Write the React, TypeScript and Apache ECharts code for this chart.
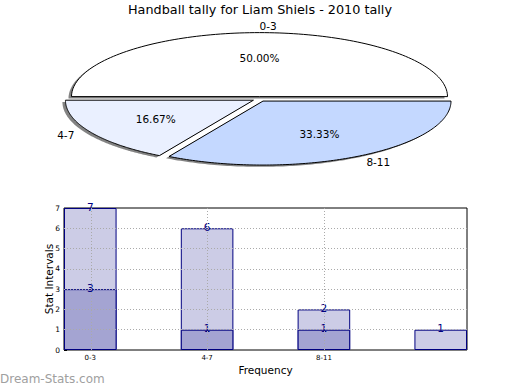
import React, { useEffect, useRef } from "react";
import * as echarts from "echarts";

const TITLE = "Handball tally for Liam Shiels - 2010 tally";

// Pie data
const pieLabels = ["0-3", "4-7", "8-11"];
const pieValues = [3, 1, 2];
const pieColors = ["#ffffff", "#eaf0ff", "#c4d8ff"];

// Bar data
const barCategories = ["0-3", "4-7", "8-11", ""];
const totalValues = [7, 6, 2, 1];
const lowValues: (number | null)[] = [3, 1, 1, null];
const yGridValues = [1, 2, 3, 4, 5, 6];

const FONT = "DejaVu Sans";
const BAR_FRAC = 0.45;
const X_MAX = barCategories.length - 1 + BAR_FRAC;

// layout
const GRID = { left: 64, right: 53, top: 208, bottom: 40 };
const PIE = { cx: 259.5, cy: 99, r: 188, sy: 64 / 188, explode: 7 };

export default function App() {
  const ref = useRef<HTMLDivElement>(null);

  useEffect(() => {
    if (!ref.current) return;
    const chart = echarts.init(ref.current, undefined, { renderer: "svg" });

    const total = pieValues.reduce((a, b) => a + b, 0);
    const gridWidth = 520 - GRID.left - GRID.right;
    const unit = gridWidth / X_MAX;
    const barWidth = unit * BAR_FRAC;

    const pos = (i: number) => i + BAR_FRAC / 2;

    const renderPie = (params: any, api: any) => {
      const i = params.dataIndex;
      const v = api.value(0);
      let cum = 0;
      for (let k = 0; k < i; k++) cum += pieValues[k];
      const a1 = (cum / total) * 2 * Math.PI;
      const a2 = ((cum + v) / total) * 2 * Math.PI;
      const mid = (a1 + a2) / 2;
      const ox = PIE.explode * Math.cos(mid);
      const oy = -PIE.explode * Math.sin(mid) * PIE.sy;
      const cx = PIE.cx + ox;
      const cy = PIE.cy + oy;
      const pts: number[][] = [[cx, cy]];
      const N = 120;
      for (let s = 0; s <= N; s++) {
        const a = a1 + ((a2 - a1) * s) / N;
        pts.push([cx + PIE.r * Math.cos(a), cy - PIE.r * Math.sin(a) * PIE.sy]);
      }
      const shadowPts = pts.map((p) => [p[0] - 3, p[1] + 1.8]);
      const lr = PIE.explode + 1.1 * PIE.r;
      const pr = PIE.explode + 0.6 * PIE.r;
      const lx = PIE.cx + lr * Math.cos(mid);
      const ly = PIE.cy - lr * Math.sin(mid) * PIE.sy;
      const px = PIE.cx + pr * Math.cos(mid);
      const py = PIE.cy - pr * Math.sin(mid) * PIE.sy;
      return {
        type: "group",
        children: [
          {
            type: "polygon",
            z2: 0,
            shape: { points: shadowPts },
            style: { fill: "rgba(90,90,90,0.75)", stroke: "none" },
          },
          {
            type: "polygon",
            z2: 5,
            shape: { points: pts },
            style: { fill: pieColors[i], stroke: "#000", lineWidth: 1 },
          },
          {
            type: "text",
            z2: 10,
            x: lx,
            y: ly,
            style: {
              text: pieLabels[i],
              fill: "#000",
              font: `10.5px "${FONT}"`,
              align: Math.cos(mid) > 0 ? "left" : "right",
              verticalAlign: "middle",
            },
          },
          {
            type: "text",
            z2: 10,
            x: px,
            y: py,
            style: {
              text: ((v / total) * 100).toFixed(2) + "%",
              fill: "#000",
              font: `10.5px "${FONT}"`,
              align: "center",
              verticalAlign: "middle",
            },
          },
        ],
      };
    };

    const labelCfg = {
      show: true,
      position: "top",
      distance: -4,
      color: "#000080",
      fontSize: 10.5,
      fontFamily: FONT,
      formatter: (p: any) => String(p.value[1]),
    };

    chart.setOption({
      animation: false,
      textStyle: { fontFamily: FONT },
      title: {
        text: TITLE,
        left: "center",
        top: 3,
        padding: 0,
        textStyle: { fontSize: 12.8, fontWeight: "normal", color: "#000", fontFamily: FONT },
      },
      graphic: [
        {
          type: "text",
          left: 0,
          top: 373,
          style: {
            text: "Dream-Stats.com",
            fill: "#a0a0a0",
            font: `12px "${FONT}"`,
          },
        },
      ],
      grid: {
        ...GRID,
        show: true,
        borderColor: "#000",
        borderWidth: 1,
        backgroundColor: "transparent",
      },
      xAxis: {
        type: "value",
        min: 0,
        max: X_MAX,
        name: "Frequency",
        nameLocation: "middle",
        nameGap: 14,
        nameTextStyle: { fontSize: 10.5, color: "#000", fontFamily: FONT },
        axisLine: { show: false },
        axisTick: { show: false },
        splitLine: { show: false },
        axisLabel: {
          customValues: barCategories.map((_, i) => pos(i)).filter((_, i) => barCategories[i] !== ""),
          formatter: (val: number) => barCategories[Math.round(val - BAR_FRAC / 2)] ?? "",
          fontSize: 7,
          color: "#000",
          margin: 4,
        },
      },
      yAxis: {
        type: "value",
        min: 0,
        max: 7,
        interval: 1,
        name: "Stat Intervals",
        nameLocation: "middle",
        nameGap: 10,
        nameMoveOverlap: false,
        nameTextStyle: { fontSize: 10.5, color: "#000", fontFamily: FONT },
        axisLine: { show: false },
        axisTick: { show: true, inside: true, length: 3, lineStyle: { color: "#000" } },
        splitLine: { show: false },
        axisLabel: { fontSize: 7.5, color: "#000", margin: 4 },
      },
      series: [
        {
          type: "custom",
          coordinateSystem: "none",
          data: pieValues.map((v) => [v]),
          renderItem: renderPie,
          silent: true,
        },
        {
          type: "bar",
          name: "total",
          data: totalValues.map((v, i) => [pos(i), v]),
          barWidth,
          barGap: "-100%",
          itemStyle: { color: "#ccccE6", borderColor: "#000080", borderWidth: 1 },
          label: labelCfg,
          z: 2,
        },
        {
          type: "bar",
          name: "low",
          data: lowValues
            .map((v, i) => (v == null ? null : [pos(i), v]))
            .filter((d) => d !== null),
          barWidth,
          barGap: "-100%",
          itemStyle: { color: "#a4a4d2", borderColor: "#000080", borderWidth: 1 },
          label: labelCfg,
          z: 3,
          markLine: {
            silent: true,
            symbol: ["none", "none"],
            label: { show: false },
            lineStyle: { type: [1, 2], color: "#aaaaaa", width: 1 },
            emphasis: { disabled: true },
            data: [
              ...yGridValues.map((y) => ({ yAxis: y })),
              ...barCategories
                .map((c, i) => ({ c, x: pos(i) }))
                .filter((o) => o.c !== "")
                .map((o) => ({ xAxis: o.x })),
            ],
          },
        },
      ],
    });

    return () => chart.dispose();
  }, []);

  return (
    <div
      ref={ref}
      style={{ position: "absolute", left: 0, top: 0, width: 520, height: 390 }}
    />
  );
}
